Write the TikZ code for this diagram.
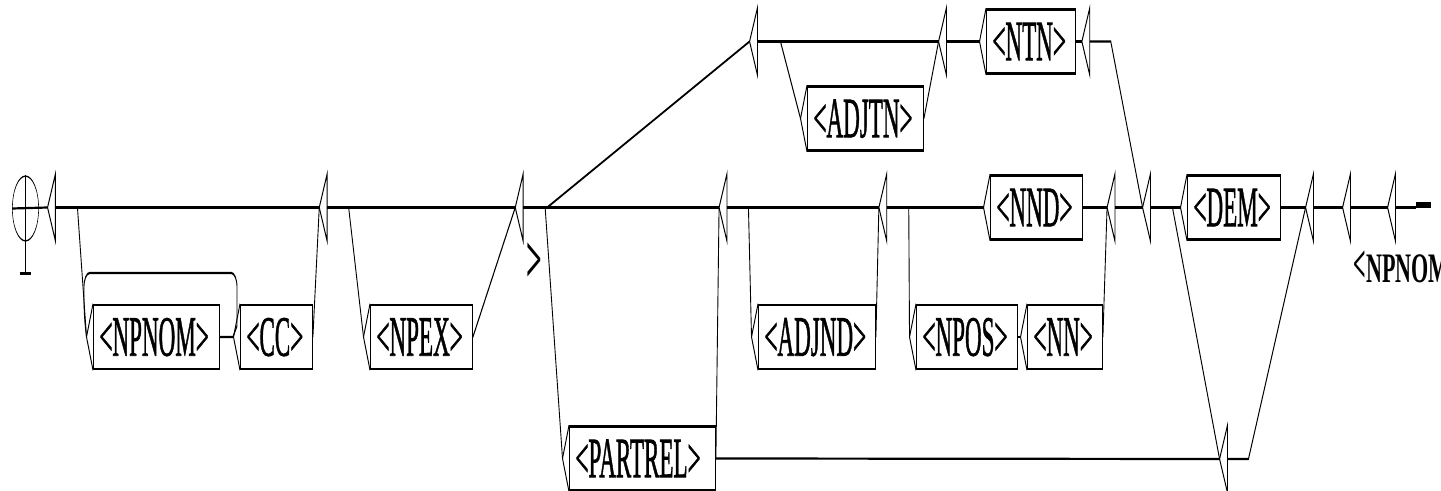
\documentclass[tikz,border=0pt]{standalone}
\usepackage{graphicx}
\usepackage{fontspec}
\setmainfont{Liberation Serif}
\newfontfamily\boxfont[FakeBold=1.5]{Liberation Serif}
\begin{document}
\begin{tikzpicture}
\useasboundingbox (0,0) rectangle (720.5pt,-245.5pt);
% The whole graph is drawn in a horizontally condensed canvas;
% coordinates are given in pixel units of the final picture.
\begin{scope}[transform canvas={xscale=0.405}, x=1.234568pt, y=-0.5pt,
  line width=1.1pt,
  tbox/.style={draw, rectangle, anchor=west, inner xsep=7.41pt, inner ysep=0pt,
    minimum height=32pt, text width=#1, align=left, text height=18.7pt, text depth=0pt,
    font=\boxfont\fontsize{28.5pt}{30pt}\selectfont},
  ebox/.style={rectangle, inner sep=0pt, minimum width=8.64pt, minimum height=32.5pt},
  outlbl/.style={inner sep=0pt}]

% initial state
\node[draw, circle, line width=0.7pt, minimum size=32.4pt, inner sep=0pt] (init) at (25.5,208.5) {};
\coordinate (initfoot) at (25.5,273.5);

% empty boxes
\node[ebox] (e1)   at (51.5,207.5) {};
\node[ebox] (e2)   at (323.2,207.5) {};
\node[ebox] (e3)   at (519.2,207.5) {};
\node[ebox] (e4)   at (723,207.5) {};
\node[ebox] (e5)   at (753.5,41.5) {};
\node[ebox] (et2)  at (942.5,41.5) {};
\node[ebox] (et3)  at (1085.8,41.5) {};
\node[ebox] (em2)  at (882.8,207.5) {};
\node[ebox] (e6)   at (1111,207.5) {};
\node[ebox] (e7)   at (1146.5,207.5) {};
\node[ebox] (ebot) at (1223.5,459) {};
\node[ebox] (e8)   at (1309.5,207.5) {};
\node[ebox] (e9)   at (1346.5,207.5) {};
\node[ebox] (e10)  at (1391.5,207.5) {};

% boxes with text
\node[tbox=140.74pt] (npnom)   at (93,337)    {<NPNOM>};
\node[tbox=74.07pt]  (cc)      at (240,337)   {<CC>};
\node[tbox=111.11pt] (npex)    at (370,337)   {<NPEX>};
\node[tbox=165.43pt] (partrel) at (569,458.5) {<PARTREL>};
\node[tbox=128.40pt] (adjtn)   at (807,118.5) {<ADJTN>};
\node[tbox=95.06pt]  (ntn)     at (986,41.5)  {<NTN>};
\node[tbox=129.63pt] (adjnd)   at (758,337)   {<ADJND>};
\node[tbox=98.77pt]  (nnd)     at (990,207.5) {<NND>};
\node[tbox=109.88pt] (npos)    at (916,337)   {<NPOS>};
\node[tbox=77.78pt]  (nn)      at (1027,337)  {<NN>};
\node[tbox=100.00pt] (dem)     at (1187,207.5){<DEM>};

% final state
\node[fill, inner sep=0pt, minimum width=18.5pt, minimum height=3.3pt, anchor=west] (fin) at (1416,205) {};

% box outputs
\node[outlbl, anchor=base, font=\bfseries\fontsize{34pt}{34pt}\selectfont] (out3) at (534,283) {>};
\node[outlbl, anchor=base west, font=\bfseries\fontsize{21pt}{22pt}\selectfont] (out9) at (1353,283)
  {\scalebox{1.3}[1]{\scalebox{1}[1.3]{<}NPNOM}};

% shapes of the empty boxes
\foreach \n in {e1,e2,e3,e4,e5,et2,et3,em2,e6,e7,ebot,e8,e9,e10}
  \draw (\n.north east) -- (\n.west) -- (\n.south east) -- cycle;

% input brackets of the text boxes
\foreach \n in {npnom,cc,npex,partrel,adjtn,ntn,adjnd,nnd,npos,nn,dem}{
  \draw (\n.north west) -- ([xshift=-8.02pt]\n.west) -- (\n.south west);
  \coordinate (\n-in) at ([xshift=-8.02pt]\n.west);
}

% initial state symbol
\draw (init.west) -- (e1.west);
\draw[line width=0.9pt] (init.north) -- (initfoot);
\draw ([xshift=-7.4pt]initfoot) -- ([xshift=7.4pt]initfoot);

% transitions
\draw (e1.east) -- (e2.west);
\draw (e1.east) -- ++(22,0) -- (npnom-in);
\draw (npnom.east) -- (cc-in);
\draw (npnom.east) -- (233,337) -- (237,326)
  [rounded corners=7pt] -- (237,273) -- (84,273) -- (84,315)
  [sharp corners] -- (npnom-in);
\draw (cc.east) -- (e2.west);
\draw (e2.east) -- (e3.west);
\draw (e2.east) -- ++(21.5,0) -- (npex-in);
\draw (npex.east) -- (e3.west);
\draw (e3.east) -- (e4.west);
\draw (e3.east) -- ++(24,0) -- (e5.west);
\draw (e3.east) -- ++(22,0) -- (partrel-in);
\draw (partrel.east) -- (e4.west);
\draw (partrel.east) -- (ebot.west);
\draw (e4.east) -- (em2.west);
\draw (e4.east) -- ++(21.5,0) -- (adjnd-in);
\draw (adjnd.east) -- (em2.west);
\draw (em2.east) -- (nnd-in);
\draw (em2.east) -- ++(22,0) -- (npos-in);
\draw (npos.east) -- (nn-in);
\draw (nn.east) -- (e6.west);
\draw (nnd.east) -- (e6.west);
\draw (e6.east) -- (e7.west);
\draw (e5.east) -- (et2.west);
\draw (e5.east) -- ++(23,0) -- (adjtn-in);
\draw (adjtn.east) -- (et2.west);
\draw (et2.east) -- (ntn-in);
\draw (ntn.east) -- (et3.west);
\draw (et3.east) -- ++(21,0) -- (e7.west);
\draw (e7.east) -- (dem-in);
\draw (e7.east) -- ++(22,0) -- (ebot.west);
\draw (dem.east) -- (e8.west);
\draw (ebot.east) -- ++(21,0) -- (e8.west);
\draw (e8.east) -- (e9.west);
\draw (e9.east) -- (e10.west);
\draw (e10.east) -- (e10.east -| fin.west);
\end{scope}
\end{tikzpicture}
\end{document}
